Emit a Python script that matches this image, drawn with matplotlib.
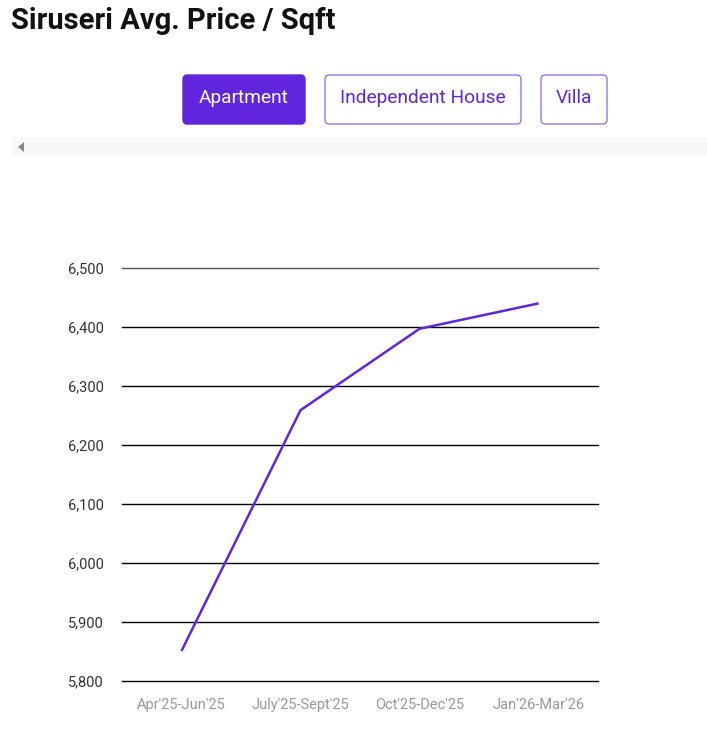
import matplotlib.pyplot as plt
from matplotlib.patches import FancyBboxPatch, Rectangle, Polygon

# data
quarters = ["Apr'25-Jun'25", "July'25-Sept'25", "Oct'25-Dec'25", "Jan'26-Mar'26"]
price_sqft = [5851, 6259, 6397, 6440]
y_ticks = [5800, 5900, 6000, 6100, 6200, 6300, 6400, 6500]
tabs = ["Apartment", "Independent House", "Villa"]

W, H = 707, 732
purple = "#6025DD"
plt.rcParams['font.family'] = ['Roboto', 'DejaVu Sans']

fig = plt.figure(figsize=(W / 100, H / 100), dpi=100)

def px(x, y):
    """pixel coords (top-left origin) -> figure fraction"""
    return x / W, 1 - y / H

### Title
fig.text(*px(11, 21), "Siruseri Avg. Price / Sqft", fontsize=21, fontweight="bold",
         color="#111111", ha="left", va="center")

### Tab buttons
tab_box = [(183, 305), (325, 521), (541, 607)]
for i, (lab, (x0, x1)) in enumerate(zip(tabs, tab_box)):
    active = i == 0
    fx0, fy1 = px(x0, 124)
    fw = (x1 - x0) / W
    fh = 49 / H
    box = FancyBboxPatch((fx0, fy1), fw, fh, boxstyle="round,pad=0,rounding_size=0.006",
                         transform=fig.transFigure,
                         fc=purple if active else "white",
                         ec=purple if active else "#9B72EE", lw=1.0)
    fig.add_artist(box)
    fig.text(fx0 + fw / 2, fy1 + fh / 2 + 0.002, lab, fontsize=13.8,
             color="white" if active else purple, ha="center", va="center")

### scroll strip
fig.add_artist(Rectangle(px(12, 155), (W - 12) / W, 18 / H, transform=fig.transFigure,
                         fc="#f8f8f8", ec="none"))
fig.add_artist(Polygon([px(18, 147), px(24, 142), px(24, 152)], closed=True,
                       transform=fig.transFigure, fc="#888888", ec="none"))

### Chart
ax = fig.add_axes([122 / W, (H - 681) / H, 476 / W, 413 / H])
x = list(range(len(quarters)))
ax.plot(x, price_sqft, color=purple, lw=1.8, solid_capstyle="butt")
ax.set_xlim(-0.5, len(quarters) - 0.5)
ax.set_ylim(y_ticks[0], y_ticks[-1])
ax.set_yticks(y_ticks)
ax.set_yticklabels([f"{v:,}" for v in y_ticks], fontsize=10.5, color="#333333")
ax.set_xticks(x)
ax.set_xticklabels(quarters, fontsize=10.5, color="#999999")
ax.tick_params(length=0)
ax.tick_params(axis="y", pad=13)
ax.tick_params(axis="x", pad=12)
for v in y_ticks:
    ax.axhline(v, color="#555555" if v == y_ticks[-1] else "black", lw=1.0,
               zorder=0, clip_on=False)
for s in ax.spines.values():
    s.set_visible(False)
ax.set_facecolor("white")

plt.savefig("out.png", dpi=100)
